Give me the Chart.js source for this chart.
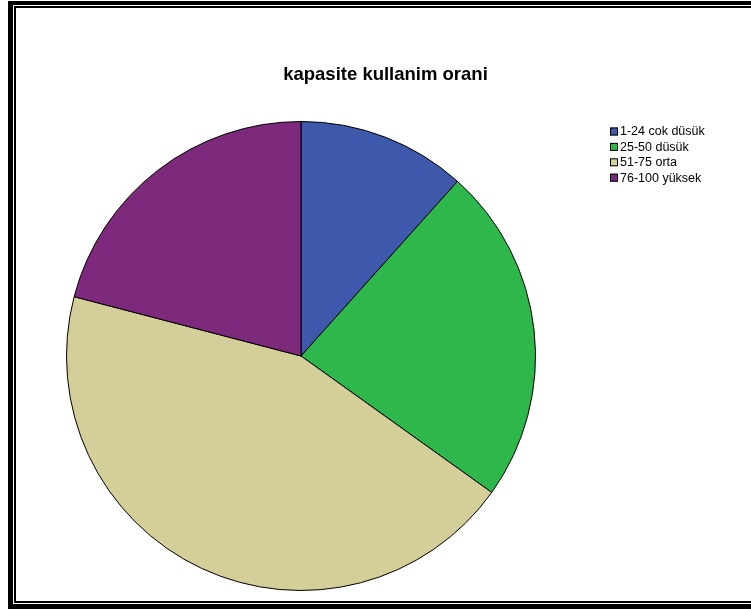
<!DOCTYPE html>
<html>
<head>
<meta charset="utf-8">
<script src="https://cdn.jsdelivr.net/npm/chart.js@4"></script>
<style>
  html, body { margin: 0; padding: 0; background: #fff; }
  #wrap { position: relative; width: 751px; height: 610px; overflow: hidden; }
  #outer { position: absolute; left: 8px; top: 1px; width: 800px; height: 599px;
           border-left: 5px solid #000; border-top: 4px solid #000; border-bottom: 5px solid #000; }
  #inner { position: absolute; left: 14px; top: 6px; width: 800px; height: 593px;
           border-left: 2px solid #000; border-top: 2px solid #000; border-bottom: 2px solid #000; }
  canvas { position: absolute; left: 0; top: 0; }
</style>
</head>
<body>
<div id="wrap">
  <canvas id="chart" width="751" height="610"></canvas>
  <div id="outer"></div>
  <div id="inner"></div>
</div>
<script>
const titleText = "kapasite kullanim orani";
const categories = ["1-24 cok düsük", "25-50 düsük", "51-75 orta", "76-100 yüksek"];
const counts = [5, 10, 19, 9];
const sliceColors = ["#3e58ac", "#2eb84c", "#d4ce99", "#7d297c"];

// title + legend drawn at fixed spots, SPSS style
const decorPlugin = {
    id: "decor",
    afterDraw: (chart) => {
        const ctx = chart.ctx;
        ctx.save();
        ctx.fillStyle = "#000";
        ctx.font = "bold 18.5px 'Liberation Sans', Arial, sans-serif";
        ctx.textAlign = "center";
        ctx.textBaseline = "middle";
        ctx.fillText(titleText, 385.5, 75);

        ctx.font = "12.5px 'Liberation Sans', Arial, sans-serif";
        ctx.textAlign = "left";
        categories.forEach((label, i) => {
            const y = 127.5 + i * 15.4;
            ctx.fillStyle = sliceColors[i];
            ctx.fillRect(610, y, 8, 8);
            ctx.strokeStyle = "#000";
            ctx.lineWidth = 1;
            ctx.strokeRect(610.5, y + 0.5, 7, 7);
            ctx.fillStyle = "#000";
            ctx.fillText(label, 620, y + 4.5);
        });
        ctx.restore();
    }
};

const myChart = new Chart(document.getElementById("chart"), {
    type: "pie",
    data: {
        labels: categories,
        datasets: [
            {
                data: counts,
                backgroundColor: sliceColors,
                borderColor: "#000",
                borderWidth: 1
            }
        ]
    },
    options: {
        responsive: false,
        animation: false,
        layout: {
            padding: { left: 66, right: 215, top: 121, bottom: 19 }
        },
        plugins: {
            legend: { display: false },
            title: { display: false },
            tooltip: { enabled: false }
        }
    },
    plugins: [decorPlugin]
});
</script>
</body>
</html>
